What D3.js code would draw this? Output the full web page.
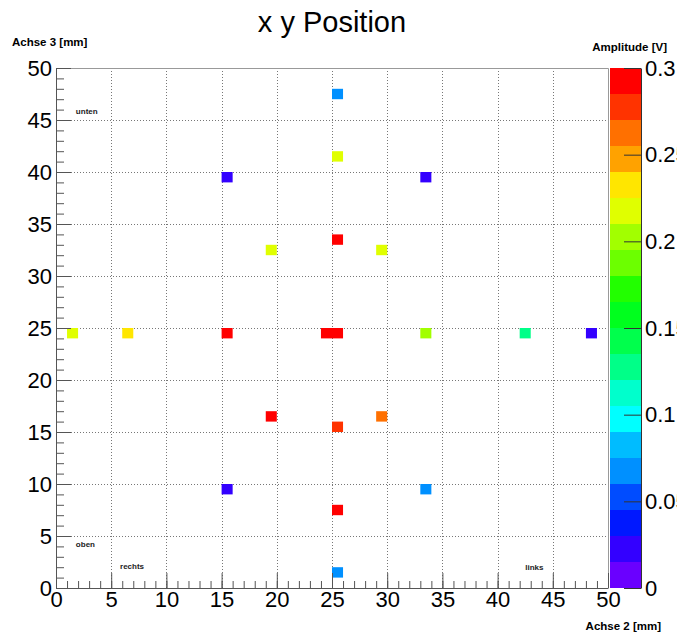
<!DOCTYPE html>
<html>
<head>
<meta charset="utf-8">
<script src="https://cdn.jsdelivr.net/npm/d3@7"></script>
<style>
  body { margin: 0; background: #fff; }
  svg { font-family: "Liberation Sans", Arial, sans-serif; }
</style>
</head>
<body>
<div id="chart"></div>
<script>
// cell data (bin lower edge in mm) and amplitude in V
const cellX   = [25, 25, 15, 33, 25, 19, 29, 1, 6, 15, 24, 25, 33, 42, 48, 19, 25, 29, 15, 33, 25, 25];
const cellY   = [47, 41, 39, 39, 33, 32, 32, 24, 24, 24, 24, 24, 24, 24, 24, 16, 15, 16, 9, 9, 7, 1];
const cellAmp = [0.068, 0.218, 0.022, 0.022, 0.292, 0.218, 0.218, 0.218, 0.232, 0.295, 0.298, 0.298,
                 0.2, 0.128, 0.022, 0.292, 0.278, 0.262, 0.022, 0.066, 0.292, 0.068];

// 20-level rainbow palette, low to high
const palette = ["#6a00ff", "#3300ff", "#0018ff", "#004cff", "#0090ff", "#00bcff", "#00ffff", "#00ffcc",
                 "#00ff88", "#00ff4c", "#00ff1e", "#22ff00", "#6cff00", "#a2ff00", "#e0ff00", "#ffe600",
                 "#ffa200", "#ff7000", "#ff3300", "#ff0000"];

const xTicks = d3.range(0, 51, 5);
const yTicks = d3.range(0, 51, 5);
const zTicks = [0, 0.05, 0.1, 0.15, 0.2, 0.25, 0.3];

// notes written in the frame: [text, x mm, y mm]
const notes = [["unten", 1.8, 45.6], ["oben", 1.8, 3.9], ["rechts", 5.8, 1.8], ["links", 42.5, 1.7]];

const W = 677, H = 634;
const svg = d3.select("#chart").append("svg").attr("width", W).attr("height", H);

const x = d3.scaleLinear().domain([0, 50]).range([56, 608]);
const y = d3.scaleLinear().domain([0, 50]).range([588, 68]);
const zMax = 0.3;
const color = d3.scaleQuantize().domain([0, zMax]).range(palette);
const z = d3.scaleLinear().domain([0, zMax]).range([588, 68]);

// grid
const grid = svg.append("g").attr("stroke", "#777").attr("stroke-dasharray", "1,2").attr("stroke-width", 1);
grid.selectAll(".gx").data(xTicks.slice(1, -1)).enter().append("line")
  .attr("x1", d => Math.round(x(d)) + 0.5).attr("x2", d => Math.round(x(d)) + 0.5)
  .attr("y1", y(50)).attr("y2", y(0));
grid.selectAll(".gy").data(yTicks.slice(1, -1)).enter().append("line")
  .attr("y1", d => Math.round(y(d)) + 0.5).attr("y2", d => Math.round(y(d)) + 0.5)
  .attr("x1", x(0)).attr("x2", x(50));

// frame (top and right)
svg.append("path")
  .attr("d", `M${x(0)},${y(50) + 0.5}H${x(50) + 0.5}V${y(0)}`)
  .attr("fill", "none").attr("stroke", "#999");

// cells
svg.append("g").selectAll("rect")
  .data(cellX.map((d, i) => ({ x: d, y: cellY[i], v: cellAmp[i] })))
  .enter().append("rect")
  .attr("x", d => x(d.x))
  .attr("y", d => y(d.y + 1))
  .attr("width", d => x(d.x + 1) - x(d.x))
  .attr("height", d => y(d.y) - y(d.y + 1))
  .attr("fill", d => color(d.v));

function styleAxis(g) {
  g.select(".domain").attr("stroke", "#555");
  g.selectAll(".tick line").attr("stroke", "#555");
  g.selectAll("text").attr("fill", "#000").style("font-size", "22px")
    .style("font-family", "'Liberation Sans', Arial, sans-serif");
}

// y axis
svg.append("g").attr("transform", `translate(${x(0)},0)`)
  .call(d3.axisLeft(y).tickValues(d3.range(0, 51)).tickSize(-8).tickFormat(""))
  .call(g => g.select(".domain").remove())
  .call(g => g.selectAll(".tick line").attr("stroke", "#555"));
svg.append("g").attr("transform", `translate(${x(0)},0)`)
  .call(d3.axisLeft(y).tickValues(yTicks).tickSize(-15).tickSizeOuter(0).tickPadding(4).tickFormat(d3.format("d")))
  .call(styleAxis);

// x axis
svg.append("g").attr("transform", `translate(0,${y(0)})`)
  .call(d3.axisBottom(x).tickValues(d3.range(0, 51)).tickSize(-7).tickFormat(""))
  .call(g => g.select(".domain").remove())
  .call(g => g.selectAll(".tick line").attr("stroke", "#555"));
svg.append("g").attr("transform", `translate(0,${y(0)})`)
  .call(d3.axisBottom(x).tickValues(xTicks).tickSize(-15).tickSizeOuter(0).tickPadding(3).tickFormat(d3.format("d")))
  .call(styleAxis);

// colour bar
const bandW0 = 610, bandW1 = 641;
svg.append("g").selectAll("rect").data(palette).enter().append("rect")
  .attr("x", bandW0)
  .attr("y", (d, i) => z((i + 1) * zMax / palette.length))
  .attr("width", bandW1 - bandW0)
  .attr("height", z(0) - z(zMax / palette.length))
  .attr("fill", d => d);
svg.append("g").attr("transform", `translate(${bandW1},0)`)
  .call(d3.axisRight(z).tickValues(zTicks).tickSize(-17).tickSizeOuter(0).tickPadding(4).tickFormat(d => d === 0 ? "0" : String(d)))
  .call(styleAxis)
  .call(g => g.select(".domain").attr("stroke", "#333"))
  .call(g => g.selectAll(".tick line").attr("stroke", "#333"));

// notes
svg.append("g").selectAll("text").data(notes).enter().append("text")
  .attr("x", d => x(d[1])).attr("y", d => y(d[2]))
  .style("font-size", "8px").style("font-weight", "bold").attr("fill", "#222")
  .text(d => d[0]);

// titles
svg.append("text").attr("x", 332).attr("y", 32).attr("text-anchor", "middle")
  .style("font-size", "29px").text("x y Position");
svg.append("text").attr("x", 12).attr("y", 46)
  .style("font-size", "11.5px").style("font-weight", "bold").text("Achse 3 [mm]");
svg.append("text").attr("x", 667).attr("y", 51).attr("text-anchor", "end")
  .style("font-size", "11.5px").style("font-weight", "bold").text("Amplitude [V]");
svg.append("text").attr("x", 661).attr("y", 630).attr("text-anchor", "end")
  .style("font-size", "11.5px").style("font-weight", "bold").text("Achse 2 [mm]");
</script>
</body>
</html>
